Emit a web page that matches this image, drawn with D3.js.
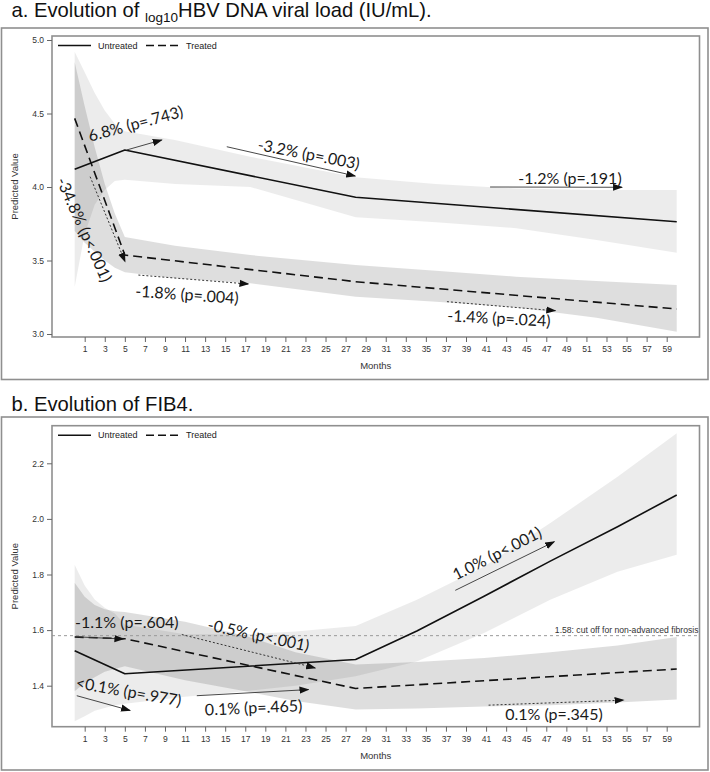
<!DOCTYPE html>
<html><head><meta charset="utf-8">
<script src="https://cdn.jsdelivr.net/npm/d3@7"></script>
<style>body{margin:0;background:#fff}</style>
</head><body>
<svg id="c" width="710" height="772" xmlns="http://www.w3.org/2000/svg"></svg>
<script>
// ---------- data ----------
const monthTicks = d3.range(1, 60, 2);
const aTickValues = [3.0, 3.5, 4.0, 4.5, 5.0];
const bTickValues = [1.4, 1.6, 1.8, 2.0, 2.2];
const seriesNames = ["Untreated", "Treated"];

// Panel a: log10 HBV DNA
const aLineMonths = [0, 5, 28, 60];
const aUntreated = [4.12, 4.252, 3.93, 3.764];
const aTreated = [4.467, 3.537, 3.356, 3.17];
const aBandMonths = [0, 1, 2, 3, 4, 5, 10, 17.5, 28, 36, 44, 52, 60];
const aUntreatedLow  = [3.32, 3.68, 3.88, 3.98, 4.04, 4.05, 4.02, 4.0, 3.794, 3.76, 3.72, 3.64, 3.553];
const aUntreatedHigh = [4.92, 4.78, 4.64, 4.52, 4.43, 4.38, 4.32, 4.206, 4.066, 4.02, 3.99, 3.98, 3.98];
const aTreatedLow    = [3.70, 3.62, 3.56, 3.50, 3.45, 3.42, 3.38, 3.345, 3.254, 3.22, 3.18, 3.11, 3.016];
const aTreatedHigh   = [4.85, 4.55, 4.27, 4.02, 3.82, 3.66, 3.60, 3.537, 3.469, 3.43, 3.39, 3.36, 3.333];

// Panel b: FIB4
const bUntreatedMonths = [0, 5, 28, 34.1, 40.8, 47.4, 54.1, 60];
const bUntreated = [1.526, 1.443, 1.494, 1.597, 1.722, 1.848, 1.972, 2.086];
const bTreatedMonths = [0, 5, 28, 60];
const bTreated = [1.575, 1.569, 1.39, 1.46];
const bBandMonths = [0, 1, 2, 3, 4, 5, 11, 17, 22, 28, 34.1, 40.8, 47.4, 54.1, 60];
const bUntreatedLow  = [1.272, 1.29, 1.31, 1.32, 1.33, 1.335, 1.36, 1.38, 1.40, 1.434, 1.487, 1.59, 1.709, 1.81, 1.871];
const bUntreatedHigh = [1.835, 1.76, 1.71, 1.68, 1.66, 1.62, 1.585, 1.585, 1.595, 1.615, 1.709, 1.829, 1.985, 2.152, 2.308];
const bTreatedLow    = [1.38, 1.41, 1.43, 1.45, 1.46, 1.47, 1.42, 1.38, 1.345, 1.314, 1.318, 1.325, 1.33, 1.34, 1.35];
const bTreatedHigh   = [1.77, 1.72, 1.69, 1.675, 1.668, 1.665, 1.63, 1.58, 1.52, 1.476, 1.485, 1.50, 1.52, 1.545, 1.575];
const bCutoff = 1.58;
const bCutoffLabel = "1.58: cut off for non-advanced fibrosis";

// annotations: label, text anchor (month,value), rotation, arrow from/to (month,value), arrow style
const aNotes = [
  {t:"6.8% (p=.743)",   m:1.53,  v:4.308, r:-15, a:[5.19,4.252,8.68,4.32],   dot:false},
  {t:"-3.2% (p=.003)",  m:18.16, v:4.252, r:11,  a:[15.16,4.274,27.96,4.075], dot:false},
  {t:"-1.2% (p=.191)",  m:44.2,  v:4.02,  r:0,   a:[41.4,4.0,54.55,3.998],    dot:false},
  {t:"-34.8% (p<.001)", m:-1.85, v:4.045, r:66,  a:[1.54,4.07,5.02,3.492],    dot:true},
  {t:"-1.8% (p=.004)",  m:6.02,  v:3.254, r:4,   a:[6.35,3.401,17.32,3.34],   dot:true},
  {t:"-1.4% (p=.024)",  m:37.1,  v:3.087, r:3,   a:[37.1,3.22,47.9,3.158],    dot:true}
];
const bNotes = [
  {t:"1.0% (p<.001)",   m:38.03, v:1.778, r:-27, a:[37.93,1.743,47.8,1.918],  dot:false},
  {t:"-1.1% (p=.604)",  m:0.04,  v:1.607, r:0,   a:[0.04,1.576,4.86,1.568],   dot:false},
  {t:"-0.5% (p<.001)",  m:13.17, v:1.60,  r:12,  a:[10.68,1.584,23.97,1.464], dot:true},
  {t:"<0.1% (p=.977)",  m:0.04,  v:1.392, r:10,  a:[0.21,1.364,5.52,1.311],   dot:false},
  {t:"0.1% (p=.465)",   m:13.0,  v:1.293, r:-2.5,a:[12.17,1.364,23.3,1.386],  dot:false},
  {t:"0.1% (p=.345)",   m:42.9,  v:1.278, r:0,   a:[41.25,1.330,54.7,1.348],  dot:true}
];

// ---------- drawing ----------
const svg = d3.select("#c");
const axisFont = "'Liberation Sans', Arial, sans-serif";
const noteFont = "Lato, 'Open Sans', sans-serif";

const defs = svg.append("defs");
defs.append("marker").attr("id","ah").attr("viewBox","0 -4 10 8")
  .attr("refX",9).attr("refY",0).attr("markerWidth",10).attr("markerHeight",8)
  .attr("markerUnits","userSpaceOnUse").attr("orient","auto")
  .append("path").attr("d","M0,-3.6L10,0L0,3.6Z").attr("fill","#111");

const x = d3.scaleLinear().domain([1, 59]).range([84.7, 666.7]);

function panel(cfg) {
  const g = svg.append("g");
  const L = 52, R = 699.5;
  const y = d3.scaleLinear().domain(cfg.yDom).range(cfg.yRange);

  // outer frame
  g.append("rect").attr("x", 1.5).attr("y", cfg.outerTop).attr("width", 706.5)
    .attr("height", cfg.outerBottom - cfg.outerTop)
    .attr("fill","none").attr("stroke","#8f8f8f").attr("stroke-width",1.6);

  // title
  const tt = g.append("text").attr("x", 11.5).attr("y", cfg.titleY)
    .attr("font-family", axisFont).attr("font-size", 20.2).attr("fill","#111");
  cfg.title(tt);

  const clipId = "clip" + cfg.id;
  defs.append("clipPath").attr("id", clipId).append("rect")
    .attr("x", L).attr("y", cfg.top).attr("width", R - L).attr("height", cfg.bottom - cfg.top);
  const pg = g.append("g").attr("clip-path", `url(#${clipId})`);

  const area = () => d3.area().x(d => x(d.m)).y0(d => y(d.lo)).y1(d => y(d.hi));
  const bandData = (ms, lo, hi) => ms.map((m, i) => ({m, lo: lo[i], hi: hi[i]}));
  pg.append("path").datum(bandData(cfg.bandMonths, cfg.uLo, cfg.uHi))
    .attr("d", area()).attr("fill", "#000").attr("fill-opacity", 0.075);
  pg.append("path").datum(bandData(cfg.bandMonths, cfg.tLo, cfg.tHi))
    .attr("d", area()).attr("fill", "#000").attr("fill-opacity", 0.13);

  if (cfg.cutoff !== undefined) {
    pg.append("line").attr("x1", L).attr("x2", R).attr("y1", y(cfg.cutoff)).attr("y2", y(cfg.cutoff))
      .attr("stroke","#9a9a9a").attr("stroke-width",1).attr("stroke-dasharray","3,3");
    g.append("text").attr("x", R - 1).attr("y", y(cfg.cutoff) - 3).attr("text-anchor","end")
      .attr("font-family", axisFont).attr("font-size", 8.6).attr("fill","#333").text(cfg.cutoffLabel);
  }

  const line = d3.line().x(d => x(d[0])).y(d => y(d[1]));
  pg.append("path").datum(cfg.uMonths.map((m,i)=>[m,cfg.u[i]])).attr("d", line)
    .attr("fill","none").attr("stroke","#111").attr("stroke-width",1.6).attr("stroke-linejoin","round");
  pg.append("path").datum(cfg.tMonths.map((m,i)=>[m,cfg.t[i]])).attr("d", line)
    .attr("fill","none").attr("stroke","#111").attr("stroke-width",1.6).attr("stroke-dasharray","9,5");

  // annotations
  cfg.notes.forEach(n => {
    g.append("line").attr("x1", x(n.a[0])).attr("y1", y(n.a[1]))
      .attr("x2", x(n.a[2])).attr("y2", y(n.a[3]))
      .attr("stroke","#333").attr("stroke-width", n.dot ? 1 : 0.9)
      .attr("stroke-dasharray", n.dot ? "2,2" : null)
      .attr("marker-end","url(#ah)");
    g.append("text").attr("transform", `translate(${x(n.m)},${y(n.v)}) rotate(${n.r})`)
      .attr("font-family", noteFont).attr("font-size", 16).attr("fill","#1a1a1a").text(n.t);
  });

  // plot frame
  g.append("rect").attr("x", L).attr("y", cfg.top).attr("width", R - L).attr("height", cfg.bottom - cfg.top)
    .attr("fill","none").attr("stroke","#8f8f8f").attr("stroke-width",1.6);

  // axes
  const ya = g.append("g").attr("transform", `translate(${L},0)`)
    .call(d3.axisLeft(y).tickValues(cfg.ticks).tickFormat(d3.format(".1f")).tickSize(5).tickPadding(3));
  const xa = g.append("g").attr("transform", `translate(0,${cfg.bottom})`)
    .call(d3.axisBottom(x).tickValues(monthTicks).tickSize(5).tickPadding(4));
  [ya, xa].forEach(a => {
    a.select(".domain").remove();
    a.selectAll("line").attr("stroke","#666");
    a.selectAll("text").attr("font-family", axisFont).attr("font-size", 8.5).attr("fill","#333");
  });

  g.append("text").attr("x", (L + R) / 2).attr("y", cfg.bottom + 32).attr("text-anchor","middle")
    .attr("font-family", axisFont).attr("font-size", 9.5).attr("fill","#333").text("Months");
  g.append("text").attr("transform", `translate(18,${(cfg.top + cfg.bottom) / 2}) rotate(-90)`)
    .attr("text-anchor","middle").attr("font-family", axisFont).attr("font-size", 9.5)
    .attr("fill","#333").text("Predicted Value");

  // legend
  const ly = cfg.top + 9.5;
  g.append("line").attr("x1", 58).attr("x2", 91).attr("y1", ly).attr("y2", ly)
    .attr("stroke","#111").attr("stroke-width",1.6);
  g.append("text").attr("x", 98).attr("y", ly + 3).attr("font-family", axisFont)
    .attr("font-size", 9).attr("fill","#222").text(seriesNames[0]);
  g.append("line").attr("x1", 146).attr("x2", 181).attr("y1", ly).attr("y2", ly)
    .attr("stroke","#111").attr("stroke-width",1.6).attr("stroke-dasharray","8,4");
  g.append("text").attr("x", 186).attr("y", ly + 3).attr("font-family", axisFont)
    .attr("font-size", 9).attr("fill","#222").text(seriesNames[1]);
}

panel({
  id: "a", outerTop: 28, outerBottom: 379.5, top: 36, bottom: 337, titleY: 17,
  yDom: [3.0, 5.0], yRange: [334, 40], ticks: aTickValues,
  title: t => {
    t.append("tspan").text("a. Evolution of ");
    t.append("tspan").attr("font-size", 13.5).attr("dy", 5).text("log10");
    t.append("tspan").attr("dy", -5).text("HBV DNA viral load (IU/mL).");
  },
  bandMonths: aBandMonths, uLo: aUntreatedLow, uHi: aUntreatedHigh, tLo: aTreatedLow, tHi: aTreatedHigh,
  uMonths: aLineMonths, u: aUntreated, tMonths: aLineMonths, t: aTreated, notes: aNotes
});

panel({
  id: "b", outerTop: 417, outerBottom: 770, top: 425.7, bottom: 726.7, titleY: 411,
  yDom: [1.4, 2.2], yRange: [685.7, 463.3], ticks: bTickValues,
  title: t => { t.append("tspan").text("b. Evolution of FIB4."); },
  bandMonths: bBandMonths, uLo: bUntreatedLow, uHi: bUntreatedHigh, tLo: bTreatedLow, tHi: bTreatedHigh,
  cutoff: bCutoff, cutoffLabel: bCutoffLabel,
  uMonths: bUntreatedMonths, u: bUntreated, tMonths: bTreatedMonths, t: bTreated, notes: bNotes
});
</script>
</body></html>
